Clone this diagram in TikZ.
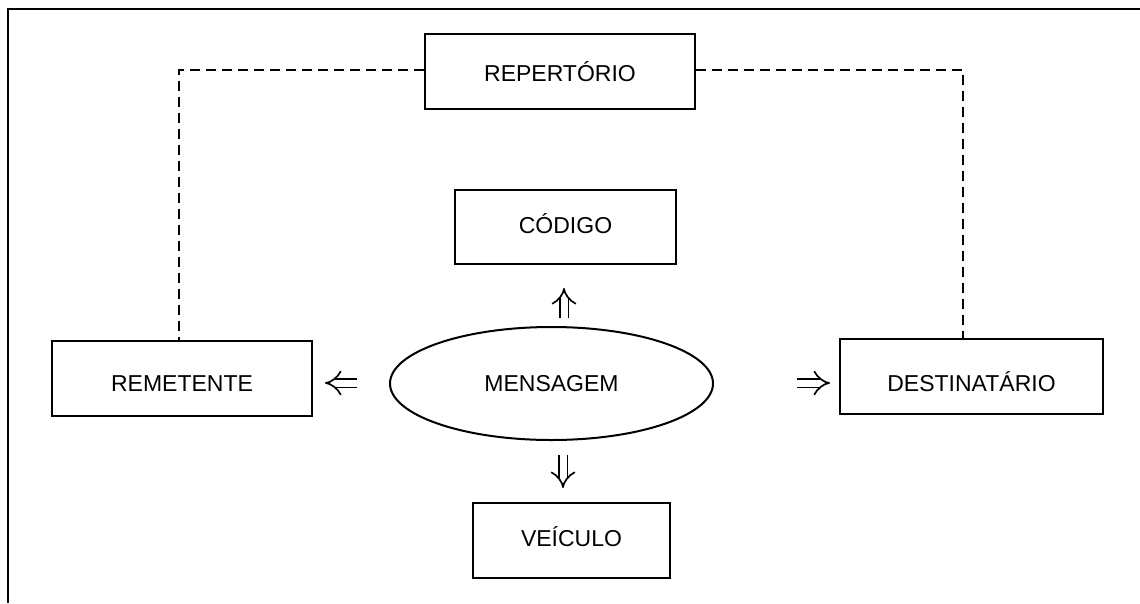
\documentclass[tikz,border=0pt]{standalone}
\usepackage{fontspec}
\setmainfont{Liberation Sans}
\usetikzlibrary{shapes.geometric,arrows.meta}
\tikzset{
  boxst/.style={draw, line width=2.5pt, inner sep=0pt, font=\fontsize{23}{27}\selectfont},
  ellst/.style={draw, ellipse, line width=2pt, inner sep=0pt, font=\fontsize{23}{27}\selectfont},
  dashlink/.style={line width=2.2pt, dash pattern=on 10pt off 6pt},
  dblarrow/.style={double, double distance=7pt, line width=1.7pt, -{Implies}},
  frame/.style={line width=2.8pt}
}
\begin{document}
\begin{tikzpicture}[x=1pt,y=-1pt]
\useasboundingbox (0,0) rectangle (1140,603);
% outer frame (top and left edges)
\coordinate (ftr) at (1140,9);
\coordinate (ftl) at (8,9);
\coordinate (fbl) at (8,603);
\draw[frame] (ftr) -- (ftl) -- (fbl);

\node[boxst, minimum width=270pt, minimum height=75pt, text height=20.5pt, text depth=0pt] (rep) at (560,71.5) {REPERTÓRIO};
\node[boxst, minimum width=221pt, minimum height=74pt, text height=16.5pt, text depth=4pt] (cod) at (565.5,227) {CÓDIGO};
\node[boxst, minimum width=260pt, minimum height=75pt, text height=26.5pt, text depth=0pt] (rem) at (182,378.5) {REMETENTE};
\node[boxst, minimum width=263pt, minimum height=75pt, text height=30.5pt, text depth=0pt] (dest) at (971.5,376.5) {DESTINATÁRIO};
\node[boxst, minimum width=197pt, minimum height=75pt, text height=16.5pt, text depth=5pt] (vei) at (571.5,540.5) {VEÍCULO};
\node[ellst, minimum width=323pt, minimum height=113pt, text height=16.5pt, text depth=0pt] (msg) at (551.5,383.5) {MENSAGEM};

% dashed links
\coordinate (cl) at (179,70);
\coordinate (cr) at (963,70);
\draw[dashlink] (rep.west |- cl) -- (cl) -- (cl |- rem.north);
\draw[dashlink] (rep.east |- cr) -- (cr) -- (cr |- dest.north);

% double arrows
\coordinate (la1) at (357,383);
\coordinate (la2) at (325,383);
\coordinate (ra1) at (797,383);
\coordinate (ra2) at (830,383);
\coordinate (ua1) at (564,318);
\coordinate (ua2) at (564,288);
\coordinate (da1) at (563,455);
\coordinate (da2) at (563,488);
\draw[dblarrow] (la1) -- (la2);
\draw[dblarrow] (ra1) -- (ra2);
\draw[dblarrow] (ua1) -- (ua2);
\draw[dblarrow] (da1) -- (da2);
\end{tikzpicture}
\end{document}
